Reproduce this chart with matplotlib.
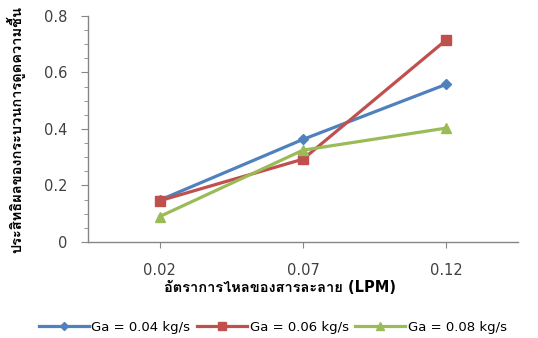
import numpy as np
import matplotlib
matplotlib.use('Agg')
from matplotlib import pyplot as plt
from matplotlib import font_manager
from matplotlib.ft2font import FT2Font

# ค่าที่อ่านจากกราฟ
flow_labels = ['0.02', '0.07', '0.12']
ga_004 = [0.148, 0.363, 0.558]
ga_006 = [0.146, 0.293, 0.715]
ga_008 = [0.090, 0.325, 0.403]
series_names = ['Ga = 0.04 kg/s', 'Ga = 0.06 kg/s', 'Ga = 0.08 kg/s']

# หา font ที่มีอักษรไทย
thai_font = None
for f in font_manager.fontManager.ttflist:
    try:
        if FT2Font(f.fname).get_char_index(ord('ก')):
            thai_font = f.name
            break
    except Exception:
        pass

fams = ['DejaVu Sans']
if thai_font:
    fams.append(thai_font)
matplotlib.rcParams['font.family'] = fams
matplotlib.rcParams['axes.unicode_minus'] = False

fig = plt.figure(figsize=(5.38, 3.38), dpi=100)
ax = fig.add_axes([0.1636, 0.284, 0.799, 0.669])

x = np.arange(len(flow_labels))
ax.plot(x, ga_004, color='#4F81BD', lw=2.3, marker='D', ms=5.5, label=series_names[0])
ax.plot(x, ga_006, color='#C0504D', lw=2.3, marker='s', ms=7, label=series_names[1])
ax.plot(x, ga_008, color='#9BBB59', lw=2.3, marker='^', ms=7.5, label=series_names[2])

ax.set_xlim(-0.5, 2.5)
ax.set_ylim(0, 0.8)
ax.set_xticks(x)
ax.set_xticklabels(flow_labels)
ax.set_yticks(np.arange(0, 0.81, 0.2))
ax.set_yticklabels(['0', '0.2', '0.4', '0.6', '0.8'])
ax.set_yticks(np.arange(0, 0.81, 0.05), minor=True)

for s in ['top', 'right']:
    ax.spines[s].set_visible(False)
for s in ['left', 'bottom']:
    ax.spines[s].set_color('#868686')
    ax.spines[s].set_linewidth(1)

ax.tick_params(axis='y', which='major', length=5, color='#868686', labelsize=10.5, labelcolor='#404040', pad=10)
ax.tick_params(axis='y', which='minor', length=3, color='#868686')
ax.tick_params(axis='x', length=4, color='#868686', labelsize=10.5, labelcolor='#404040', pad=11)

ax.set_xlabel('อัตราการไหลของสารละลาย (LPM)', fontsize=10.5, fontweight='bold')
ax.xaxis.set_label_coords(0.447, -0.168)
ax.set_ylabel('ประสิทธิผลของกระบวนการดูดความชื้น', fontsize=10.5, fontweight='bold')
ax.yaxis.set_label_coords(-0.145, 0.5)

ax.legend(loc='center', bbox_to_anchor=(0.43, -0.376), ncol=3, frameon=False,
          fontsize=9.5, handlelength=3.8, handletextpad=0.2, columnspacing=0.5,
          borderaxespad=0, markerscale=0.8)

fig.savefig('out.png', dpi=100)
